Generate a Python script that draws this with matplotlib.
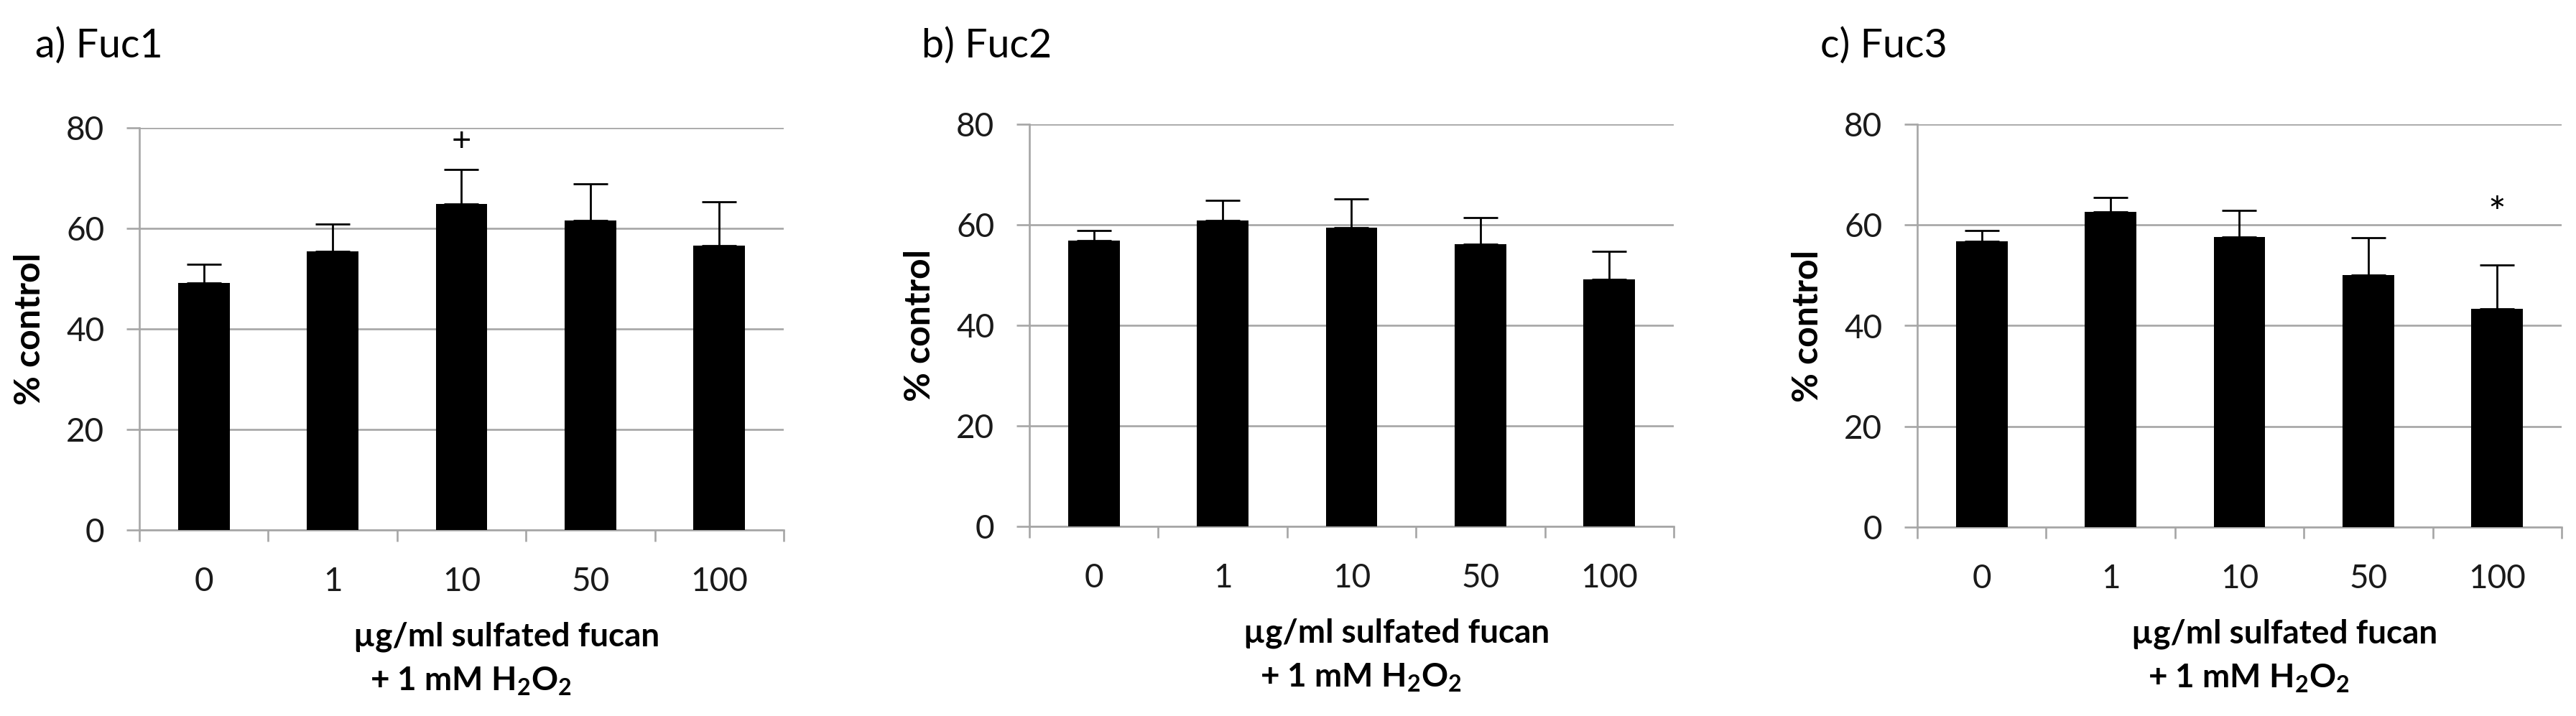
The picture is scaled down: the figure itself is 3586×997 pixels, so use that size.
import matplotlib.pyplot as plt

plt.rcParams['font.family'] = ['Lato', 'DejaVu Sans']
plt.rcParams['mathtext.fontset'] = 'custom'
plt.rcParams['mathtext.rm'] = 'Lato:bold'
plt.rcParams['mathtext.bf'] = 'Lato:bold'

doses = ['0', '1', '10', '50', '100']
panel_titles = ['a) Fuc1', 'b) Fuc2', 'c) Fuc3']

fuc1_mean = [49.2, 55.5, 64.9, 61.6, 56.6]
fuc1_err = [3.6, 5.4, 6.8, 7.2, 8.7]
fuc2_mean = [56.8, 60.8, 59.4, 56.1, 49.2]
fuc2_err = [2.1, 4.0, 5.8, 5.3, 5.5]
fuc3_mean = [56.8, 62.6, 57.6, 50.0, 43.3]
fuc3_err = [2.1, 2.9, 5.3, 7.5, 8.8]

# significance marks: (panel, bar index, y, symbol, fontsize, va)
marks = [(0, 2, 77.3, '+', 34, 'center'), (2, 4, 59.6, '*', 42, 'baseline')]

means = [fuc1_mean, fuc2_mean, fuc3_mean]
errs = [fuc1_err, fuc2_err, fuc3_err]

W, H = 3587, 997
fig = plt.figure(figsize=(W / 100, H / 100), dpi=100)

# axes boxes in pixels: left, top, right, bottom
boxes = [(194, 178, 1091, 738), (1433, 173, 2330, 733), (2669, 173, 3566, 734)]
title_x = [49, 1283, 2534]
grey = '#a6a6a6'

axes = []
for i, (l, t, r, b) in enumerate(boxes):
    ax = fig.add_axes([l / W, 1 - b / H, (r - l) / W, (b - t) / H])
    axes.append(ax)
    x = [k + 0.5 for k in range(len(doses))]
    ax.bar(x, means[i], width=0.4, color='black', zorder=3)
    ax.errorbar(x, means[i], yerr=[[0] * len(doses), errs[i]], fmt='none',
                ecolor='black', elinewidth=2.0, capsize=17, capthick=2.0, zorder=4)
    ax.set_xlim(0, 5)
    ax.set_ylim(0, 80)
    ax.set_yticks([0, 20, 40, 60, 80])
    ax.yaxis.grid(True, color=grey, linewidth=1.9, zorder=0)
    ax.set_axisbelow(True)
    for s in ['top', 'right']:
        ax.spines[s].set_visible(False)
    for s in ['left', 'bottom']:
        ax.spines[s].set_color(grey)
        ax.spines[s].set_linewidth(1.9)
    ax.tick_params(axis='y', length=13, width=1.9, color=grey, pad=22,
                   labelsize=33, labelcolor='#1a1a1a')
    ax.set_xticks(range(6))
    ax.set_xticklabels([])
    ax.tick_params(axis='x', which='major', length=11.5, width=1.9, color=grey)
    ax.set_xticks(x, minor=True)
    ax.set_xticklabels(doses, minor=True)
    ax.tick_params(axis='x', which='minor', length=0, pad=37,
                   labelsize=33, labelcolor='#1a1a1a')

    ax.text(-152 / 897, 0.5, '% control', transform=ax.transAxes, rotation=90,
            ha='center', va='center', fontsize=36, fontweight='bold')
    ax.text(0.570, -0.265, 'µg/ml sulfated fucan', transform=ax.transAxes,
            ha='center', va='center', fontsize=33, fontweight='bold')
    ax.text(0.358, -0.376, r'+ 1 mM H$_2$O$_2$', transform=ax.transAxes,
            ha='left', va='center', fontsize=33, fontweight='bold')

    fig.text(title_x[i] / W, 1 - 80 / H, panel_titles[i], ha='left',
             va='baseline', fontsize=40)

for p, k, y, sym, fs, va in marks:
    axes[p].text(k + 0.5, y, sym, ha='center', va=va, fontsize=fs, zorder=5)

fig.savefig('out.png', dpi=100)
